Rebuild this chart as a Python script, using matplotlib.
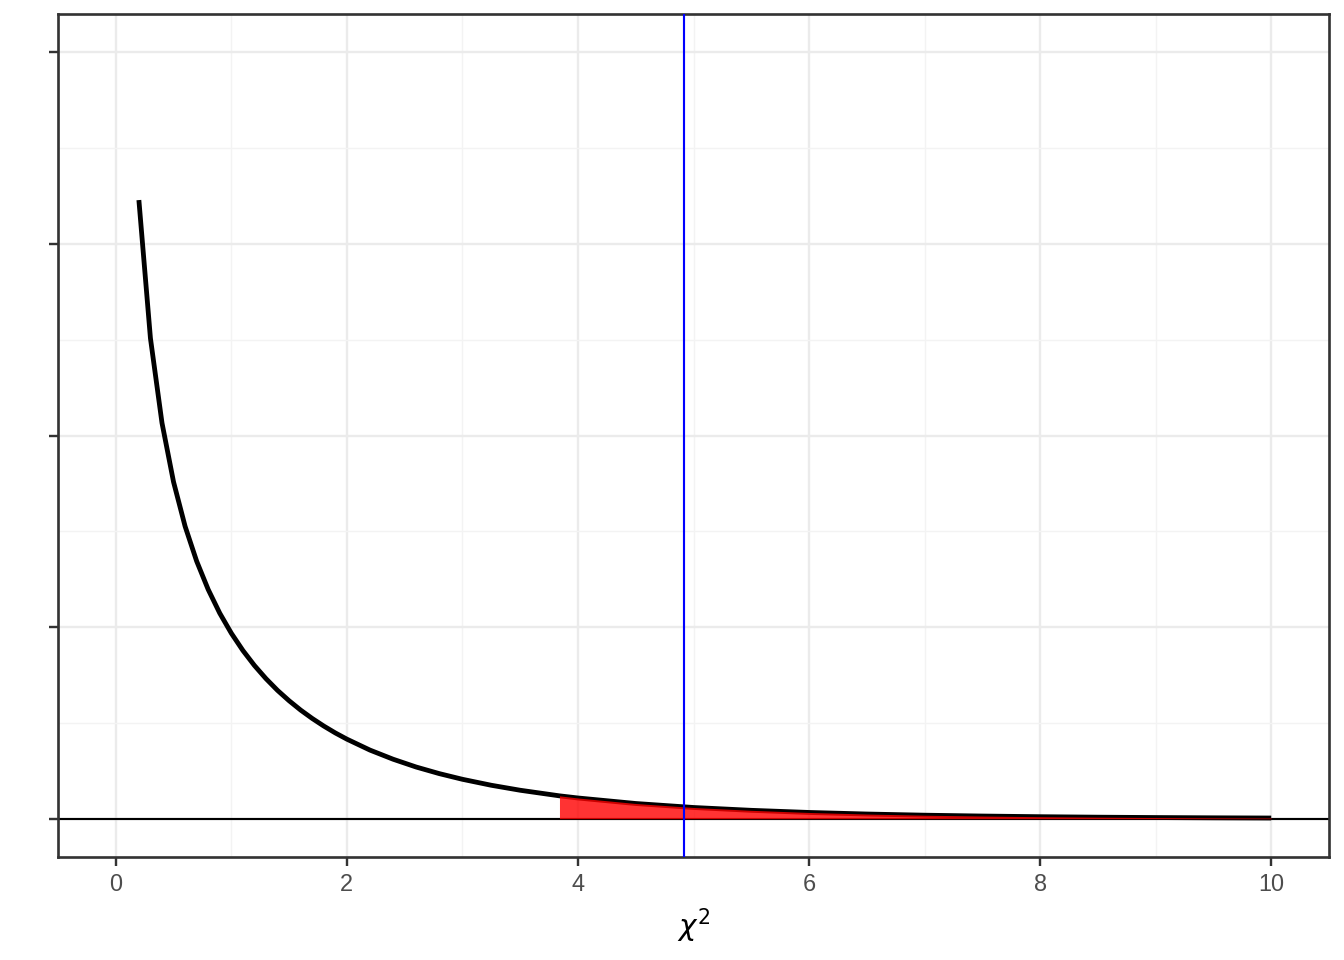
import matplotlib
matplotlib.use("Agg")
import matplotlib.pyplot as plt
from matplotlib.ticker import MultipleLocator, NullFormatter

plt.rcParams['font.family'] = ['Liberation Sans', 'DejaVu Sans']
plt.rcParams['mathtext.fontset'] = 'dejavusans'

# chi-square (df = 1) density curve
curve_x = [0.2, 0.3, 0.4, 0.5, 0.6, 0.7, 0.8, 0.9, 1.0, 1.1, 1.2, 1.3, 1.4, 1.5,
           1.6, 1.7, 1.8, 1.9, 2.0, 2.2, 2.4, 2.6, 2.8, 3.0, 3.25, 3.5, 3.84,
           4.0, 4.5, 5.0, 5.5, 6.0, 6.5, 7.0, 7.5, 8.0, 8.5, 9.0, 9.5, 10.0]
curve_y = [0.8072, 0.6269, 0.5164, 0.4394, 0.3815, 0.3360, 0.2990, 0.2681,
           0.2420, 0.2195, 0.1999, 0.1827, 0.1674, 0.1539, 0.1417, 0.1308,
           0.1209, 0.1119, 0.1038, 0.0895, 0.0776, 0.0674, 0.0588, 0.0514,
           0.0436, 0.0371, 0.0298, 0.0270, 0.0198, 0.0146, 0.0109, 0.00811,
           0.00607, 0.00455, 0.00343, 0.00258, 0.00195, 0.00148, 0.00112,
           0.00085]

# rejection region (shaded)
fill_x = [3.84, 4.0, 4.5, 5.0, 5.5, 6.0, 6.5, 7.0, 7.5, 8.0, 8.5, 9.0, 9.5, 10.0]
fill_y = [0.0298, 0.0270, 0.0198, 0.0146, 0.0109, 0.00811, 0.00607, 0.00455,
          0.00343, 0.00258, 0.00195, 0.00148, 0.00112, 0.00085]

critical_value = 3.84
observed_stat = 4.92

x_major = [0, 2, 4, 6, 8, 10]
x_labels = ['0', '2', '4', '6', '8', '10']
y_major = [0, 0.25, 0.5, 0.75, 1.0]

fig = plt.figure(figsize=(7, 5), dpi=192)
ax = fig.add_axes([58/1344, 1 - 857/960, (1329 - 58)/1344, (857 - 14)/960])

ax.set_xlim(-0.5, 10.5)
ax.set_ylim(-0.05, 1.05)

ax.set_xticks(x_major)
ax.set_xticklabels(x_labels)
ax.xaxis.set_minor_locator(MultipleLocator(1))
ax.set_yticks(y_major)
ax.yaxis.set_major_formatter(NullFormatter())
ax.yaxis.set_minor_locator(MultipleLocator(0.125))

ax.grid(which='major', color='#EBEBEB', linewidth=0.9, zorder=0)
ax.grid(which='minor', color='#F3F3F3', linewidth=0.5, zorder=0)
ax.set_axisbelow(True)

ax.axhline(0, color='black', linewidth=0.8, zorder=2)
ax.plot(curve_x, curve_y, color='black', linewidth=1.8, zorder=3,
        solid_joinstyle='round', solid_capstyle='butt')
ax.fill_between(fill_x, 0, fill_y, color='red', alpha=0.8, linewidth=0, zorder=4)
ax.axvline(observed_stat, color='blue', linewidth=0.8, zorder=5)

for s in ax.spines.values():
    s.set_color('#333333')
    s.set_linewidth(1.0)

ax.tick_params(which='major', length=3.5, width=0.9, color='#333333',
               labelsize=8.8, labelcolor='#4D4D4D', pad=2.5)
ax.tick_params(which='minor', length=0)

ax.set_xlabel(r'$\chi^2$', fontsize=11, color='black', labelpad=4)

fig.savefig('out.png', dpi=192)
